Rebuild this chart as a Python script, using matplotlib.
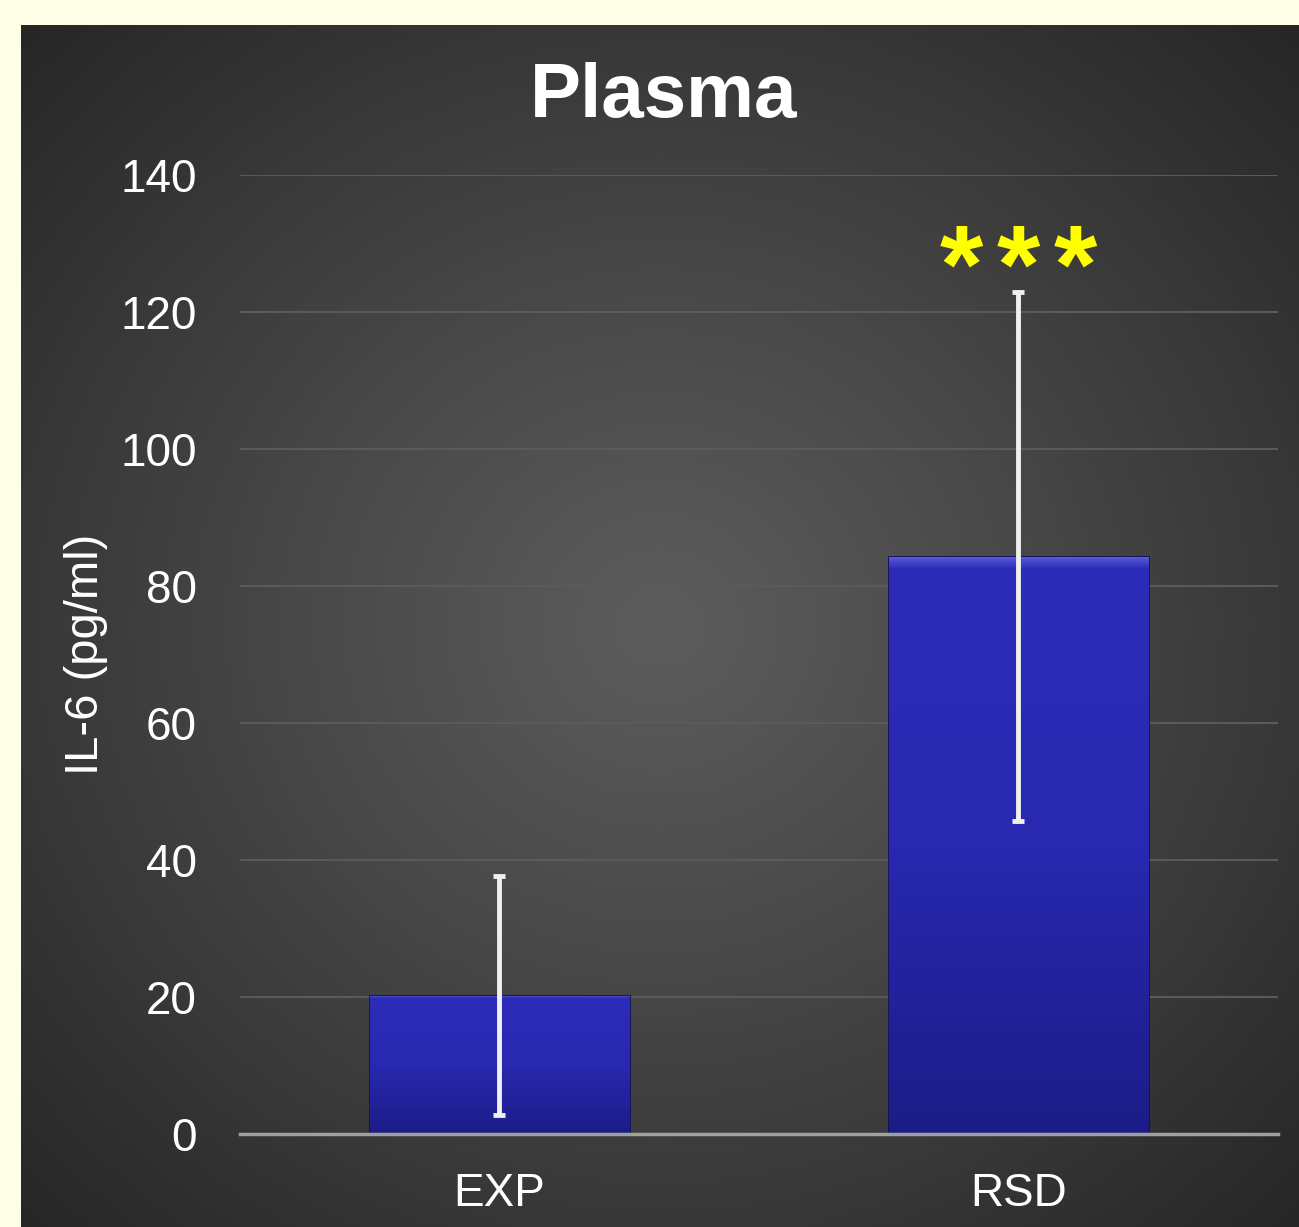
import numpy as np
import matplotlib
matplotlib.use("Agg")
import matplotlib.pyplot as plt
from matplotlib.colors import LinearSegmentedColormap

categories = ["EXP", "RSD"]
means = [20.2, 84.3]
errors = [17.4, 38.6]
yticks = [0, 20, 40, 60, 80, 100, 120, 140]
title = "Plasma"
ylabel = "IL-6 (pg/ml)"
sig_label = "*"
sig_y = 125.6

W, H = 1299, 1227
fig = plt.figure(figsize=(W / 100, H / 100), dpi=100)
fig.patch.set_facecolor("#FFFFE8")
plt.rcParams['font.family'] = ['Liberation Sans', 'DejaVu Sans']

# background panel with radial gradient
bg = fig.add_axes([21 / W, 0, 1 - 21 / W, 1 - 25 / H])
bg.set_axis_off()
nx, ny = 400, 400
xx, yy = np.meshgrid(np.linspace(0, 1, nx), np.linspace(0, 1, ny))
cx, cy = 0.50, 0.50
r = np.sqrt(((xx - cx) / 0.72) ** 2 + ((yy - cy) / 0.72) ** 2)
r = np.clip(r, 0, 1)
c0, c1 = 0x5c / 255, 0x25 / 255
vals = c0 + (c1 - c0) * r ** 1.1
img = np.dstack([vals, vals, vals])
bg.imshow(img, extent=[0, 1, 0, 1], aspect='auto', origin='upper')
bg.set_xlim(0, 1)
bg.set_ylim(0, 1)

ax = fig.add_axes([240 / W, (H - 1134) / H, 1038 / W, (1134 - 175) / H])
ax.patch.set_alpha(0)
x = np.arange(len(categories))
bars = ax.bar(x, means, width=0.5, color="#2626A8", edgecolor="#10105A", linewidth=2, zorder=2)

cmap = LinearSegmentedColormap.from_list("bar", ["#5858DA", "#2C2CB8", "#2828B0", "#1C1C88"])
for b in bars:
    x0, w, h = b.get_x(), b.get_width(), b.get_height()
    grad = np.concatenate([np.linspace(0, 0.33, 5), np.linspace(0.34, 1, 200)]).reshape(-1, 1)
    im = ax.imshow(grad, cmap=cmap, extent=[x0, x0 + w, 0, h], aspect='auto', origin='upper', zorder=2.1, vmin=0, vmax=1)
    im.set_clip_path(b)

ax.errorbar(x, means, yerr=errors, fmt='none', ecolor='#F0F0F0', elinewidth=3.5, capsize=4, capthick=3.5, zorder=3)

ax.set_xlim(-0.5, 1.5)
ax.set_ylim(0, 140)
ax.set_yticks(yticks)
ax.set_xticks(x)
ax.set_xticklabels(categories)
ax.tick_params(axis='both', length=0, labelsize=33, labelcolor='white')
ax.tick_params(axis='y', pad=31)
ax.tick_params(axis='x', pad=27)
ax.grid(axis='y', color='#5a5a5a', linewidth=1.5, zorder=0)
ax.set_axisbelow(True)
for s in ['top', 'right', 'left']:
    ax.spines[s].set_visible(False)
ax.spines['bottom'].set_color('#A0A0A0')
ax.spines['bottom'].set_linewidth(2.5)
ax.spines['bottom'].set_zorder(4)

ax.set_ylabel(ylabel, fontsize=34, color='white', labelpad=9)
for dx in (-0.11, 0.0, 0.11):
    ax.text(1 + dx, sig_y, sig_label, ha='center', va='center', fontsize=80,
            fontweight='bold', color='#FFFF00', zorder=5)

fig.text(664 / W, 1 - 98 / H, title, ha='center', va='center', fontsize=55, fontweight='bold', color='white')

fig.savefig("out.png", dpi=100, facecolor=fig.get_facecolor())
